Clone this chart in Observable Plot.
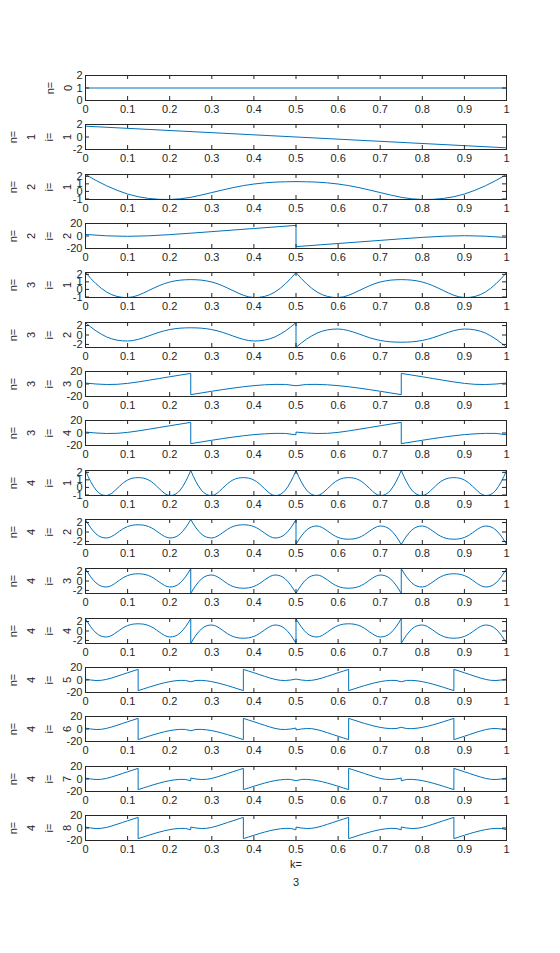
<!DOCTYPE html>
<html><head><meta charset="utf-8">
<script src="https://cdn.jsdelivr.net/npm/d3@7"></script>
<script src="https://cdn.jsdelivr.net/npm/@observablehq/plot@0.6"></script>
<style>
body{margin:0;background:#fff;}
#fig{position:relative;width:560px;height:953px;background:#fff;overflow:hidden;}
.panel{position:absolute;left:0;}
</style></head><body><div id="fig"></div>
<script>
// Shapes (one segment each, uniformly spaced samples)
const flat  = [1, 1];
const slope = [1.73, -1.73];
const bowl  = [2.24, 1.45, 0.75, 0.15, -0.35, -0.7, -0.93, -1.05, -1.07, -0.98, -0.78, -0.48, -0.15, 0.18, 0.5, 0.77, 0.98, 1.13, 1.23, 1.28, 1.3];
const wave  = [2.62, 1.7, 0.88, 0.18, -0.41, -0.82, -1.09, -1.23, -1.27, -1.17, -0.93, -0.58, -0.2, 0.2, 0.58, 0.9, 1.15, 1.33, 1.45, 1.51, 1.53];
const ramp  = [2.5, 0.3, -0.5, 0.3, 2.2, 4.5, 7, 9.5, 12, 14.5, 17];
const sawUp = [1.5, 0, -0.8, -0.5, 1, 3.3, 6, 8.8, 11.6, 14.3, 17];
const sawLow = [-17, -14.3, -11.6, -9, -6.6, -4.4, -2.6, -1.3, -0.6, -0.7, -2.8];
const shapes = {flat, slope, bowl, wave, ramp, sawUp, sawLow};

const xTicks = [0, 0.1, 0.2, 0.3, 0.4, 0.5, 0.6, 0.7, 0.8, 0.9, 1];
const nLabels = ["0", "1", "2", "2", "3", "3", "3", "3", "4", "4", "4", "4", "4", "4", "4", "4"];
const iLabels = [null, "1", "1", "2", "1", "2", "3", "4", "1", "2", "3", "4", "5", "6", "7", "8"];
const yDomains = [[0, 2], [-2, 2], [-1.07, 2.24], [-20, 20], [-1.07, 2.24], [-2.65, 2.65], [-20, 20], [-20, 20],
                  [-1.07, 2.24], [-2.65, 2.65], [-2.65, 2.65], [-2.65, 2.65], [-20, 20], [-20, 20], [-20, 20], [-20, 20]];
const yTicks = [[0, 1, 2], [-2, 0, 2], [-1, 0, 1, 2], [-20, 0, 20], [-1, 0, 1, 2], [-2, 0, 2], [-20, 0, 20], [-20, 0, 20],
                [-1, 0, 1, 2], [-2, 0, 2], [-2, 0, 2], [-2, 0, 2], [-20, 0, 20], [-20, 0, 20], [-20, 0, 20], [-20, 0, 20]];
// pieces: [shape, sign, reversed] laid side by side over [0,1]
const pieces = [
  [["flat", 1, 0]],
  [["slope", 1, 0]],
  [["bowl", 1, 0], ["bowl", 1, 1]],
  [["ramp", 1, 0], ["ramp", -1, 1]],
  [["bowl", 1, 0], ["bowl", 1, 1], ["bowl", 1, 0], ["bowl", 1, 1]],
  [["wave", 1, 0], ["wave", 1, 1], ["wave", -1, 0], ["wave", -1, 1]],
  [["sawUp", 1, 0], ["sawLow", 1, 0], ["sawLow", 1, 1], ["sawUp", 1, 1]],
  [["sawUp", 1, 0], ["sawLow", 1, 0], ["sawUp", 1, 0], ["sawLow", 1, 0]],
  [["bowl", 1, 0], ["bowl", 1, 1], ["bowl", 1, 0], ["bowl", 1, 1], ["bowl", 1, 0], ["bowl", 1, 1], ["bowl", 1, 0], ["bowl", 1, 1]],
  [["wave", 1, 0], ["wave", 1, 1], ["wave", 1, 0], ["wave", 1, 1], ["wave", -1, 0], ["wave", -1, 1], ["wave", -1, 0], ["wave", -1, 1]],
  [["wave", 1, 0], ["wave", 1, 1], ["wave", -1, 0], ["wave", -1, 1], ["wave", -1, 0], ["wave", -1, 1], ["wave", 1, 0], ["wave", 1, 1]],
  [["wave", 1, 0], ["wave", 1, 1], ["wave", -1, 0], ["wave", -1, 1], ["wave", 1, 0], ["wave", 1, 1], ["wave", -1, 0], ["wave", -1, 1]],
  [["sawUp", 1, 0], ["sawLow", 1, 0], ["sawLow", 1, 1], ["sawUp", 1, 1], ["sawUp", 1, 0], ["sawLow", 1, 0], ["sawLow", 1, 1], ["sawUp", 1, 1]],
  [["sawUp", 1, 0], ["sawLow", 1, 0], ["sawLow", 1, 1], ["sawUp", 1, 1], ["sawUp", -1, 0], ["sawLow", -1, 0], ["sawLow", -1, 1], ["sawUp", -1, 1]],
  [["sawUp", 1, 0], ["sawLow", 1, 0], ["sawUp", 1, 0], ["sawLow", 1, 0], ["sawLow", 1, 1], ["sawUp", 1, 1], ["sawLow", 1, 1], ["sawUp", 1, 1]],
  [["sawUp", 1, 0], ["sawLow", 1, 0], ["sawUp", 1, 0], ["sawLow", 1, 0], ["sawUp", 1, 0], ["sawLow", 1, 0], ["sawUp", 1, 0], ["sawLow", 1, 0]]
];

function buildPoints(spec) {
  const pts = [];
  const m = spec.length;
  spec.forEach(([name, sign, rev], j) => {
    let arr = shapes[name].slice();
    if (rev) arr.reverse();
    const L = arr.length;
    arr.forEach((v, t) => pts.push({x: j / m + (t / (L - 1)) / m, y: sign * v}));
  });
  return pts;
}

const INK = "#262626";
const FONT = "'Liberation Sans', Arial, Helvetica, sans-serif";
const fig = document.getElementById("fig");
const AX_TOP = 75, PITCH = 49.33, AX_H = 25, MT = 5;

for (let k = 0; k < 16; k++) {
  const last = k === 15;
  const MB = last ? 60 : 19;
  const lbl = [];
  if (iLabels[k] === null) {
    lbl.push(["n=", -35], [nLabels[k], -17]);
  } else {
    lbl.push(["n=", -72], [nLabels[k], -54], ["i=", -36], [iLabels[k], -18]);
  }
  const marks = [
    Plot.line(buildPoints(pieces[k]), {x: "x", y: "y", stroke: "#0072BD", strokeWidth: 1}),
    Plot.frame({stroke: INK, strokeWidth: 1}),
    Plot.tickX(xTicks, {x: d => d, insetTop: AX_H - 4, stroke: INK}),
    Plot.tickX(xTicks, {x: d => d, insetBottom: AX_H - 4, stroke: INK}),
    Plot.tickY(yTicks[k], {y: d => d, insetRight: 421 - 4, stroke: INK}),
    Plot.tickY(yTicks[k], {y: d => d, insetLeft: 421 - 4, stroke: INK}),
    Plot.axisX(xTicks, {tickSize: 0, tickPadding: 5, tickFormat: d => String(d), fill: INK, fontSize: 11, label: null}),
    Plot.axisY(yTicks[k], {tickSize: 0, tickPadding: 3, tickFormat: d => String(d), fill: INK, fontSize: 11, label: null}),
    ...lbl.map(([t, dx]) => Plot.text([t], {frameAnchor: "left", dx, rotate: -90, textAnchor: "middle", lineAnchor: "middle", fill: INK, fontSize: 11}))
  ];
  if (last) {
    marks.push(Plot.text(["k="], {frameAnchor: "bottom", dy: 24, lineAnchor: "middle", fill: INK, fontSize: 11}));
    marks.push(Plot.text(["3"], {frameAnchor: "bottom", dy: 42, lineAnchor: "middle", fill: INK, fontSize: 11}));
  }
  const svg = Plot.plot({
    width: 560,
    height: MT + AX_H + MB,
    marginLeft: 85, marginRight: 54, marginTop: MT, marginBottom: MB,
    x: {domain: [0, 1], axis: null},
    y: {domain: yDomains[k], axis: null},
    style: {fontFamily: FONT, fontSize: "11px", color: INK, background: "transparent", overflow: "visible"},
    marks
  });
  const wrap = document.createElement("div");
  wrap.className = "panel";
  wrap.style.top = Math.round(AX_TOP + PITCH * k - MT) + "px";
  wrap.appendChild(svg);
  fig.appendChild(wrap);
}
</script></body></html>
